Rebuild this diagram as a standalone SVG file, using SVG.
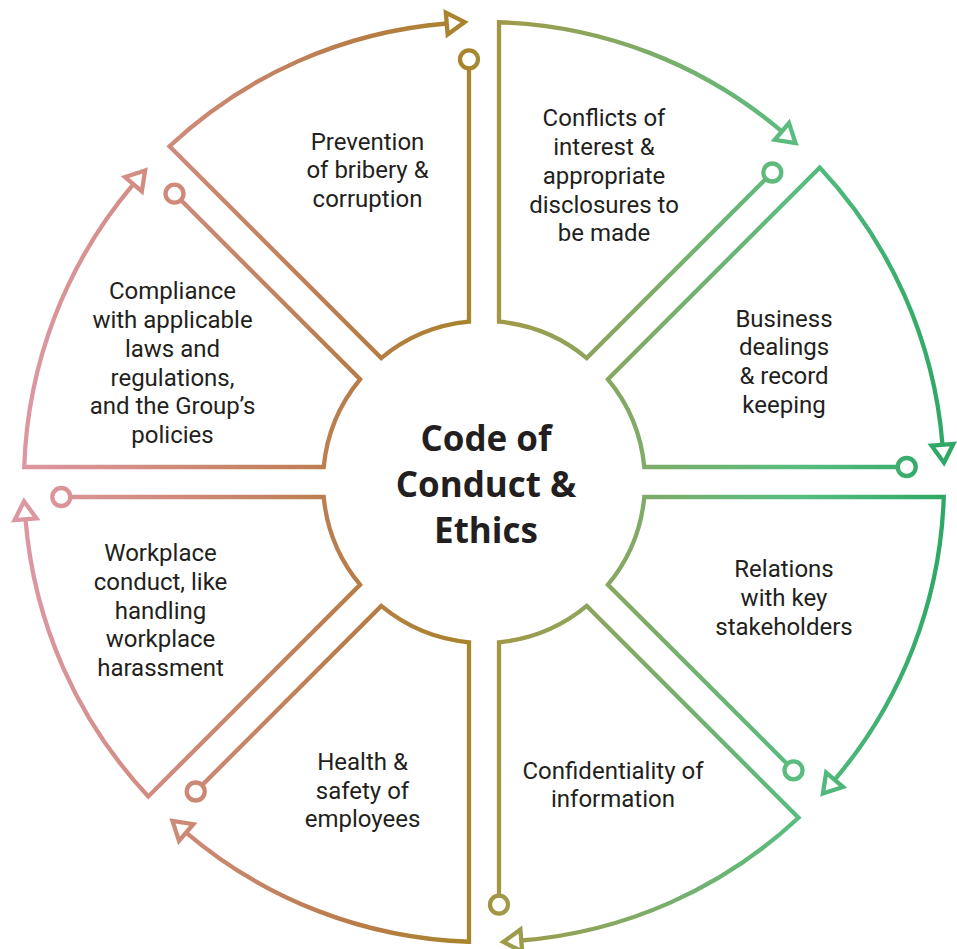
<svg xmlns="http://www.w3.org/2000/svg" width="957" height="949" viewBox="0 0 957 949">
<defs>
<linearGradient id="g" gradientUnits="userSpaceOnUse" x1="24" y1="0" x2="944" y2="0">
<stop offset="0" stop-color="#dd97a2"/>
<stop offset="0.163" stop-color="#cf8a7a"/>
<stop offset="0.36" stop-color="#b87c48"/>
<stop offset="0.48" stop-color="#a8842c"/>
<stop offset="0.52" stop-color="#a09a48"/>
<stop offset="0.64" stop-color="#86a862"/>
<stop offset="0.84" stop-color="#58bd80"/>
<stop offset="1" stop-color="#2fa865"/>
</linearGradient>
</defs>
<style>
.seg{fill:none;stroke:url(#g);stroke-width:4.3;stroke-linejoin:miter}
.arr{fill:#ffffff;stroke:url(#g);stroke-width:4.3;stroke-linejoin:miter}
.dot{fill:#ffffff;stroke:url(#g);stroke-width:4.3}
.lbl{font-family:Roboto,"Liberation Sans",sans-serif;font-size:24px;fill:#231f20;text-anchor:middle}
.title{font-family:"Open Sans","Noto Sans",sans-serif;font-weight:bold;font-size:35px;fill:#231f20;text-anchor:middle}
</style>
<rect width="957" height="949" fill="#ffffff"/>
<g id="connectors">
</g>
<g id="seg-conflicts">
<path class="seg" d="M765.92 178.86 L586.74 358.04 A161 161 0 0 0 499 321.7 L499 22.24 A460 460 0 0 1 781.85 131.45"/>
<polygon class="arr" points="795.57,143.10 788.97,123.07 774.73,139.83"/>
<circle class="dot" cx="772.28" cy="172.50" r="9"/>
<text class="lbl"><tspan x="604" y="126">Conflicts of</tspan><tspan x="604" y="155">interest &amp;</tspan><tspan x="604" y="183.5">appropriate</tspan><tspan x="604" y="212.5">disclosures to</tspan><tspan x="604" y="241">be made</tspan></text>
</g>
<g id="seg-business">
<path class="seg" d="M897.7 467 L644.3 467 A161 161 0 0 0 607.96 379.26 L819.71 167.51 A460 460 0 0 1 942.49 444.73"/>
<polygon class="arr" points="943.95,462.67 953.45,443.84 931.53,445.62"/>
<circle class="dot" cx="906.7" cy="467" r="9"/>
<text class="lbl"><tspan x="784" y="326.5">Business</tspan><tspan x="784" y="355">dealings</tspan><tspan x="784" y="384">&amp; record</tspan><tspan x="784" y="412.5">keeping</tspan></text>
</g>
<g id="seg-relations">
<path class="seg" d="M787.14 763.92 L607.96 584.74 A161 161 0 0 0 644.3 497 L943.76 497 A460 460 0 0 1 834.55 779.85"/>
<polygon class="arr" points="822.90,793.57 842.93,786.97 826.17,772.73"/>
<circle class="dot" cx="793.50" cy="770.28" r="9"/>
<text class="lbl"><tspan x="784" y="576.5">Relations</tspan><tspan x="784" y="605.5">with key</tspan><tspan x="784" y="634.5">stakeholders</tspan></text>
</g>
<g id="seg-confidentiality">
<path class="seg" d="M499 895.7 L499 642.3 A161 161 0 0 0 586.74 605.96 L798.49 817.71 A460 460 0 0 1 521.27 940.49"/>
<polygon class="arr" points="503.33,941.95 522.16,951.45 520.38,929.53"/>
<circle class="dot" cx="499" cy="904.7" r="9"/>
<text class="lbl"><tspan x="613" y="778.5">Confidentiality of</tspan><tspan x="613" y="807">information</tspan></text>
</g>
<g id="seg-health">
<path class="seg" d="M202.08 785.14 L381.26 605.96 A161 161 0 0 0 469 642.3 L469 941.76 A460 460 0 0 1 186.15 832.55"/>
<polygon class="arr" points="172.43,820.90 179.03,840.93 193.27,824.17"/>
<circle class="dot" cx="195.72" cy="791.50" r="9"/>
<text class="lbl"><tspan x="362.5" y="769.5">Health &amp;</tspan><tspan x="362.5" y="798.5">safety of</tspan><tspan x="362.5" y="827">employees</tspan></text>
</g>
<g id="seg-workplace">
<path class="seg" d="M70.3 497 L323.7 497 A161 161 0 0 0 360.04 584.74 L148.29 796.49 A460 460 0 0 1 25.51 519.27"/>
<polygon class="arr" points="24.05,501.33 14.55,520.16 36.47,518.38"/>
<circle class="dot" cx="61.3" cy="497" r="9"/>
<text class="lbl"><tspan x="160.5" y="560.5">Workplace</tspan><tspan x="160.5" y="589.5">conduct, like</tspan><tspan x="160.5" y="618.5">handling</tspan><tspan x="160.5" y="647">workplace</tspan><tspan x="160.5" y="675.5">harassment</tspan></text>
</g>
<g id="seg-compliance">
<path class="seg" d="M180.86 200.08 L360.04 379.26 A161 161 0 0 0 323.7 467 L24.24 467 A460 460 0 0 1 133.45 184.15"/>
<polygon class="arr" points="145.10,170.43 125.07,177.03 141.83,191.27"/>
<circle class="dot" cx="174.50" cy="193.72" r="9"/>
<text class="lbl"><tspan x="172.5" y="299">Compliance</tspan><tspan x="172.5" y="328">with applicable</tspan><tspan x="172.5" y="356.5">laws and</tspan><tspan x="172.5" y="385.5">regulations,</tspan><tspan x="172.5" y="414">and the Group’s</tspan><tspan x="172.5" y="443">policies</tspan></text>
</g>
<g id="seg-prevention">
<path class="seg" d="M469 68.3 L469 321.7 A161 161 0 0 0 381.26 358.04 L169.51 146.29 A460 460 0 0 1 446.73 23.51"/>
<polygon class="arr" points="464.67,22.05 445.84,12.55 447.62,34.47"/>
<circle class="dot" cx="469" cy="59.3" r="9"/>
<text class="lbl"><tspan x="367.5" y="149.5">Prevention</tspan><tspan x="367.5" y="178">of bribery &amp;</tspan><tspan x="367.5" y="207">corruption</tspan></text>
</g>
<g id="center">
<text class="title"><tspan x="486" y="450.5">Code of</tspan><tspan x="486" y="497">Conduct &amp;</tspan><tspan x="486" y="543">Ethics</tspan></text>
</g>
</svg>
